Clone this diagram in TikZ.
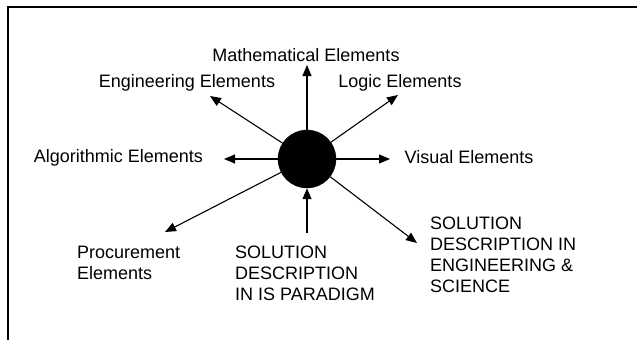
\documentclass[tikz,border=0pt]{standalone}
\usepackage{fontspec}
\setmainfont{Liberation Sans}
\usetikzlibrary{positioning, arrows.meta}

\begin{document}
\begin{tikzpicture}[
    x=1pt, y=-1pt,
    lbl/.style={inner sep=0pt, font=\fontsize{18}{21}\selectfont},
    lblml/.style={inner sep=0pt, align=left, anchor=west, font=\fontsize{18}{21}\selectfont},
    hubnode/.style={circle, fill=black, draw=black, minimum size=58pt, inner sep=0pt},
    arr/.style={-{Triangle[length=11pt, width=9pt]}, line width=1.1pt, draw=black}
]
    \useasboundingbox (0,0) rectangle (637,340);
    % frame
    \draw[line width=2pt] (637,7) -- (8,7) -- (8,340);

    % hub
    \node[hubnode] (hub) at (307,159) {};

    % labels
    \node[lbl] (math) at (306,55) {Mathematical Elements};
    \node[lbl] (eng) at (187,83) {Engineering Elements};
    \node[lbl] (logic) at (400,83) {Logic Elements};
    \node[lbl] (algo) at (118.5,158) {Algorithmic Elements};
    \node[lbl] (visual) at (469,157) {Visual Elements};
    \node[lblml] (proc) at (77,262.5) {Procurement\\Elements};
    \node[lblml] (isp) at (235,273) {SOLUTION\\DESCRIPTION\\IN IS PARADIGM};
    \node[lblml] (engsci) at (430,255) {SOLUTION\\DESCRIPTION IN\\ENGINEERING \&\\SCIENCE};

    % arrow ends
    \coordinate (tmath) at (307,65);
    \coordinate (teng) at (210,96);
    \coordinate (tlogic) at (398,95);
    \coordinate (talgo) at (224,159);
    \coordinate (tvisual) at (390,159);
    \coordinate (tproc) at (165,232);
    \coordinate (sisp) at (307,233);
    \coordinate (tengsci) at (417,243);

    \draw[arr] (hub) -- (tmath);
    \draw[arr] (hub) -- (teng);
    \draw[arr] (hub) -- (tlogic);
    \draw[arr] (hub) -- (talgo);
    \draw[arr] (hub) -- (tvisual);
    \draw[arr] (hub) -- (tproc);
    \draw[arr] (sisp) -- (hub);
    \draw[arr] (hub) -- (tengsci);
\end{tikzpicture}
\end{document}
